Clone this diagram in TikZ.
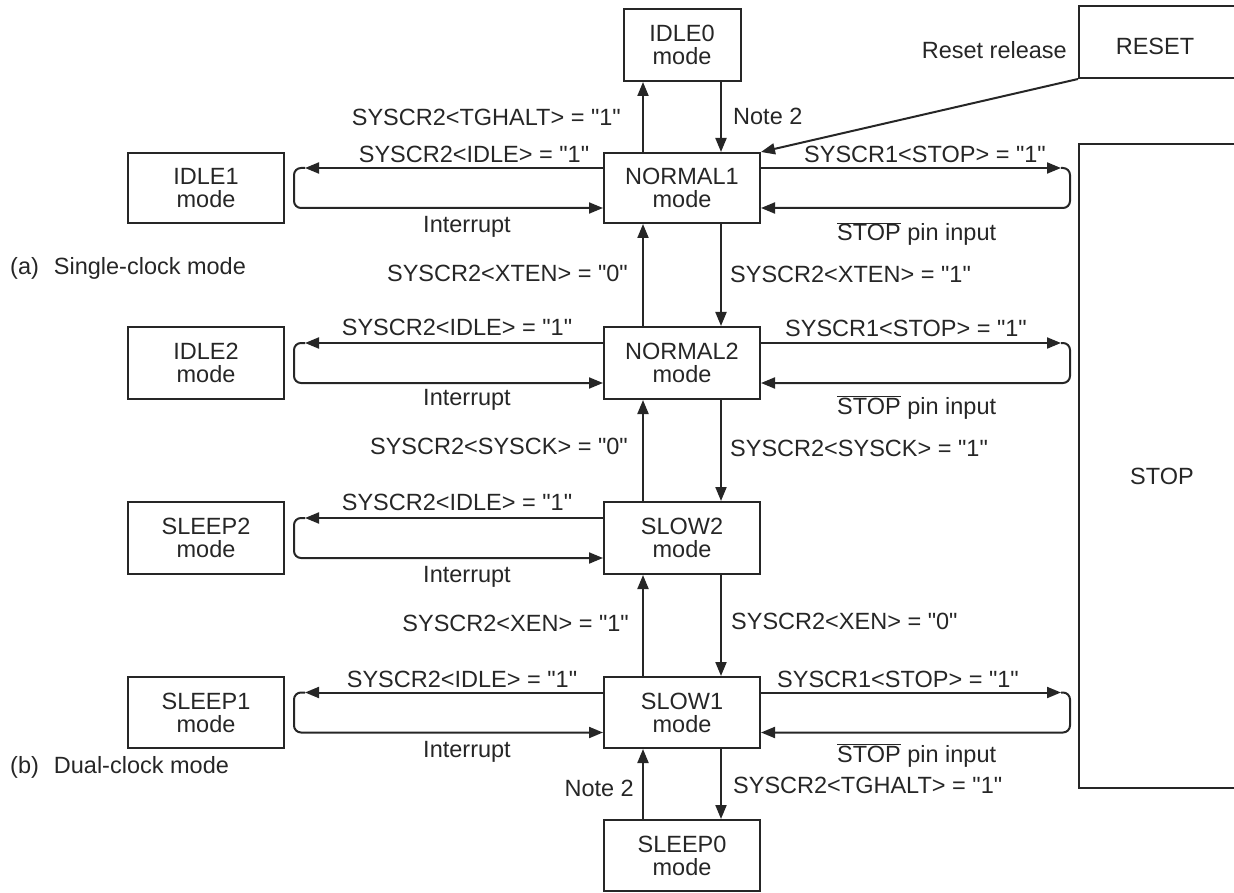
\documentclass[tikz,border=0pt]{standalone}
\usepackage{fontspec}
\setmainfont{Liberation Sans}[Ligatures=TeXOff]
\usetikzlibrary{arrows.meta}
\newcommand\qmark{"}
\begin{document}
\begin{tikzpicture}[x=1pt,y=-1pt,
  every node/.style={font=\fontsize{23.5}{23}\selectfont, inner sep=0pt, text=black!85},
  box/.style={draw=black!85, line width=2pt, minimum width=156pt, minimum height=71pt, align=center},
  lbl/.style={anchor=base},
  arr/.style={draw=black!85, line width=2pt, -{Triangle[length=14pt,width=11pt]}}]
\useasboundingbox (0,0) rectangle (1234,893);

% boxes
\node[box, minimum width=117pt, minimum height=72pt] (I0) at (682,45) {IDLE0\\mode};
\node[box, minimum height=70pt] (N1) at (682,188) {NORMAL1\\mode};
\node[box, minimum height=72pt] (N2) at (682,363) {NORMAL2\\mode};
\node[box, minimum height=72pt] (S2) at (682,538) {SLOW2\\mode};
\node[box] (S1) at (682,712.5) {SLOW1\\mode};
\node[box] (SL0) at (682,855.5) {SLEEP0\\mode};
\node[box, minimum height=70pt] (ID1) at (206,188) {IDLE1\\mode};
\node[box, minimum height=72pt] (ID2) at (206,363) {IDLE2\\mode};
\node[box, minimum height=72pt] (SP2) at (206,538) {SLEEP2\\mode};
\node[box] (SP1) at (206,712.5) {SLEEP1\\mode};
\node[box, minimum width=170pt, minimum height=72pt] (reset) at (1164,42) {};
\node[lbl] (resettxt) at (1155,55) {RESET};
\node[box, minimum width=170pt, minimum height=644pt] (stop) at (1164,466) {};
\node[lbl] (stoptxt) at (1162,484) {STOP};

% vertical transitions
\draw[arr] ([xshift=-39pt]N1.north) -- ([xshift=-39pt]I0.south);
\draw[arr] ([xshift=39pt]I0.south) -- ([xshift=39pt]N1.north);
\draw[arr] ([xshift=-39pt]N2.north) -- ([xshift=-39pt]N1.south);
\draw[arr] ([xshift=39pt]N1.south) -- ([xshift=39pt]N2.north);
\draw[arr] ([xshift=-39pt]S2.north) -- ([xshift=-39pt]N2.south);
\draw[arr] ([xshift=39pt]N2.south) -- ([xshift=39pt]S2.north);
\draw[arr] ([xshift=-39pt]S1.north) -- ([xshift=-39pt]S2.south);
\draw[arr] ([xshift=39pt]S2.south) -- ([xshift=39pt]S1.north);
\draw[arr] ([xshift=-39pt]SL0.north) -- ([xshift=-39pt]S1.south);
\draw[arr] ([xshift=39pt]S1.south) -- ([xshift=39pt]SL0.north);

% reset
\draw[arr] (reset.south west) -- (N1.north east);

% left loops
\coordinate (la1) at (305,168);
\draw[arr] ([yshift=20pt]N1.west) -- (la1);
\draw[arr, rounded corners=7pt] (la1) -- (294,168) -- (294,208) -- ([yshift=-20pt]N1.west);
\coordinate (la2) at (305,343);
\draw[arr] ([yshift=20pt]N2.west) -- (la2);
\draw[arr, rounded corners=7pt] (la2) -- (294,343) -- (294,383) -- ([yshift=-20pt]N2.west);
\coordinate (la3) at (305,518);
\draw[arr] ([yshift=20pt]S2.west) -- (la3);
\draw[arr, rounded corners=7pt] (la3) -- (294,518) -- (294,558) -- ([yshift=-20pt]S2.west);
\coordinate (la4) at (305,692.5);
\draw[arr] ([yshift=20pt]S1.west) -- (la4);
\draw[arr, rounded corners=7pt] (la4) -- (294,692.5) -- (294,732.5) -- ([yshift=-20pt]S1.west);

% right loops
\coordinate (ra1) at (1061,168);
\draw[arr] ([yshift=20pt]N1.east) -- (ra1);
\draw[arr, rounded corners=7pt] (ra1) -- (1070,168) -- (1070,208) -- ([yshift=-20pt]N1.east);
\coordinate (ra2) at (1061,343);
\draw[arr] ([yshift=20pt]N2.east) -- (ra2);
\draw[arr, rounded corners=7pt] (ra2) -- (1070,343) -- (1070,383) -- ([yshift=-20pt]N2.east);
\coordinate (ra4) at (1061,692.5);
\draw[arr] ([yshift=20pt]S1.east) -- (ra4);
\draw[arr, rounded corners=7pt] (ra4) -- (1070,692.5) -- (1070,732.5) -- ([yshift=-20pt]S1.east);

% labels: top
\node[lbl, anchor=base east] (t1) at (621,126) {SYSCR2<TGHALT> = \qmark1\qmark};
\node[lbl, anchor=base west] (t2) at (733,125) {Note 2};
\node[lbl, anchor=base east] (t3) at (1067,59) {Reset release};
% row N1
\node[lbl] (r1a) at (474,163) {SYSCR2<IDLE> = \qmark1\qmark};
\node[lbl] (r1b) at (467,233) {Interrupt};
\node[lbl] (r1c) at (925,163) {SYSCR1<STOP> = \qmark1\qmark};
\node[lbl, anchor=base west] (r1d) at (837,241) {$\overline{\hbox{STOP}}$ pin input};
\node[lbl, anchor=base west] (ca) at (10,275) {(a)\hspace{15pt}Single-clock mode};
\node[lbl, anchor=base east] (v1a) at (628,282) {SYSCR2<XTEN> = \qmark0\qmark};
\node[lbl, anchor=base west] (v1b) at (730,283) {SYSCR2<XTEN> = \qmark1\qmark};
% row N2
\node[lbl] (r2a) at (457,335) {SYSCR2<IDLE> = \qmark1\qmark};
\node[lbl] (r2b) at (467,405) {Interrupt};
\node[lbl] (r2c) at (906,337) {SYSCR1<STOP> = \qmark1\qmark};
\node[lbl, anchor=base west] (r2d) at (837,414) {$\overline{\hbox{STOP}}$ pin input};
\node[lbl, anchor=base east] (v2a) at (628,454) {SYSCR2<SYSCK> = \qmark0\qmark};
\node[lbl, anchor=base west] (v2b) at (730,456) {SYSCR2<SYSCK> = \qmark1\qmark};
% row S2
\node[lbl] (r3a) at (457,510) {SYSCR2<IDLE> = \qmark1\qmark};
\node[lbl] (r3b) at (467,582) {Interrupt};
\node[lbl, anchor=base east] (v3a) at (629,631) {SYSCR2<XEN> = \qmark1\qmark};
\node[lbl, anchor=base west] (v3b) at (731,629) {SYSCR2<XEN> = \qmark0\qmark};
% row S1
\node[lbl] (r4a) at (462,687) {SYSCR2<IDLE> = \qmark1\qmark};
\node[lbl] (r4b) at (467,757) {Interrupt};
\node[lbl] (r4c) at (898,687) {SYSCR1<STOP> = \qmark1\qmark};
\node[lbl, anchor=base west] (r4d) at (837,762) {$\overline{\hbox{STOP}}$ pin input};
\node[lbl, anchor=base west] (cb) at (10,773) {(b)\hspace{15pt}Dual-clock mode};
\node[lbl, anchor=base east] (v4a) at (634,796) {Note 2};
\node[lbl, anchor=base west] (v4b) at (733,793) {SYSCR2<TGHALT> = \qmark1\qmark};
\end{tikzpicture}
\end{document}
